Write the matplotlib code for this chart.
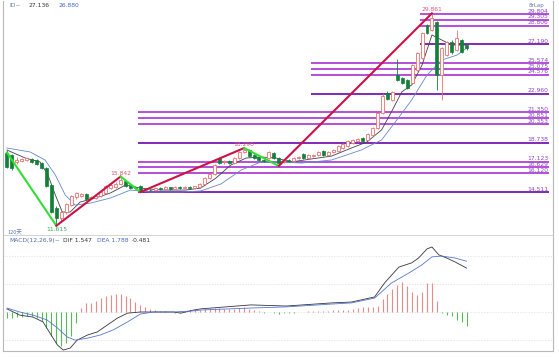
import matplotlib
matplotlib.use("Agg")
import matplotlib.pyplot as plt
import numpy as np

# daily candles (open, high, low, close)
opens = [17.86, 17.69, 17.09, 17.17, 17.26, 17.35, 17.26, 17.00, 16.57, 15.11,
         13.14, 12.27, 12.79, 13.39, 14.08, 14.16, 14.34, 13.99, 13.99, 14.16,
         14.42, 14.85, 14.94, 15.20, 15.46, 15.11, 14.94, 15.03, 14.68, 14.70,
         14.68, 14.85, 14.77, 14.90, 14.80, 14.95, 14.82, 14.98, 14.85, 14.95,
         15.20, 15.70, 16.05, 17.43, 17.05, 17.20, 17.00, 17.43, 17.95, 18.12,
         17.69, 17.52, 17.26, 17.43, 17.86, 17.43, 17.09, 17.26, 17.17, 17.43,
         17.78, 17.43, 17.62, 17.69, 18.03, 17.69, 17.95, 18.03, 18.29, 18.46,
         18.72, 18.89, 19.15, 18.98, 19.41, 20.01, 21.30, 23.00, 22.42, 24.56,
         24.30, 24.13, 23.88, 24.99, 26.02, 28.86, 28.43, 29.12, 24.56, 26.28,
         27.40, 26.71, 27.57, 27.14]
highs = [18.12, 17.80, 17.50, 17.45, 17.55, 17.45, 17.35, 17.10, 16.65, 15.20,
         13.30, 12.95, 13.60, 14.25, 14.55, 14.45, 14.45, 14.20, 14.25, 14.60,
         15.10, 15.25, 15.35, 15.842, 15.55, 15.20, 15.00, 15.10, 14.85, 14.78,
         14.92, 14.90, 15.00, 14.95, 15.02, 15.00, 15.05, 15.03, 15.06, 15.25,
         15.78, 16.15, 16.95, 17.55, 17.25, 17.28, 17.50, 18.05, 18.29, 18.18,
         17.75, 17.60, 17.35, 18.02, 17.92, 17.48, 17.32, 17.32, 17.50, 17.58,
         17.85, 17.75, 17.78, 18.02, 18.08, 18.02, 18.20, 18.52, 18.70, 18.95,
         19.05, 19.15, 19.22, 19.58, 20.10, 21.40, 22.90, 23.15, 23.20, 25.98,
         24.40, 24.20, 25.50, 26.55, 28.30, 28.95, 29.861, 29.20, 27.00, 27.50,
         27.55, 28.43, 27.65, 27.25]
lows = [16.57, 16.40, 16.95, 17.05, 17.15, 17.00, 16.85, 16.45, 14.95, 12.70,
        11.615, 12.00, 12.65, 13.30, 13.95, 14.05, 13.85, 13.90, 13.90, 14.10,
        14.35, 14.75, 14.85, 15.10, 14.95, 14.80, 14.75, 14.511, 14.60, 14.58,
        14.62, 14.70, 14.72, 14.72, 14.75, 14.76, 14.78, 14.80, 14.80, 14.90,
        15.15, 15.62, 16.00, 16.90, 16.95, 16.92, 16.95, 17.38, 17.90, 17.55,
        17.35, 17.20, 17.10, 17.38, 17.38, 16.75, 17.02, 17.10, 17.12, 17.38,
        17.38, 17.38, 17.55, 17.62, 17.62, 17.62, 17.88, 17.98, 18.22, 18.40,
        18.65, 18.82, 18.82, 18.92, 19.35, 19.95, 21.25, 22.40, 22.35, 24.05,
        23.80, 23.40, 23.80, 24.90, 25.95, 28.05, 28.35, 23.28, 22.42, 26.20,
        26.40, 26.60, 26.45, 26.71]
closes = [16.66, 16.57, 17.26, 17.35, 17.43, 17.09, 16.92, 16.57, 15.03, 12.79,
          12.27, 12.79, 13.48, 14.16, 14.42, 14.34, 13.91, 14.08, 14.16, 14.51,
          15.03, 15.11, 15.20, 15.54, 15.03, 14.85, 14.85, 14.60, 14.77, 14.65,
          14.85, 14.77, 14.92, 14.80, 14.95, 14.82, 14.98, 14.88, 15.00, 15.20,
          15.70, 16.05, 16.85, 17.00, 17.15, 17.00, 17.43, 17.95, 18.12, 17.60,
          17.43, 17.26, 17.18, 17.95, 17.43, 17.00, 17.26, 17.18, 17.43, 17.52,
          17.43, 17.69, 17.69, 17.95, 17.69, 17.95, 18.12, 18.46, 18.63, 18.89,
          18.98, 19.07, 18.89, 19.50, 20.01, 21.30, 22.76, 22.50, 23.11, 24.13,
          23.88, 23.45, 25.42, 26.45, 28.17, 28.17, 29.46, 24.56, 26.88, 27.40,
          26.54, 27.74, 26.54, 26.88]

# moving averages (bar index, price)
ma_fast_x = [0, 3.7, 6.7, 8.3, 9.8, 11.2, 12.8, 14.8, 17.9, 20.9, 24, 27, 31.1, 36.2, 39.2,
             42.3, 45.3, 48.4, 51.4, 54.5, 57.5, 61.6, 65.7, 69.7, 72.8, 75.8, 77.8,
             79.9, 81.9, 84, 86, 88, 90, 93]
ma_fast = [18.12, 17.43, 17.09, 15.97, 14.25, 12.79, 12.79, 13.65, 13.99, 14.42, 15.11,
           14.85, 14.68, 14.68, 14.85, 15.71, 16.83, 17.43, 17.52, 17.43, 17.09, 17.35,
           17.60, 18.29, 18.80, 19.84, 21.39, 23.11, 23.71, 25.42, 28.0, 27.57, 27.14, 27.136]
ma_slow_x = [0, 4.7, 7.7, 9.8, 11.8, 13.8, 16.9, 20.9, 25, 29.1, 35.2, 39.2, 43.3, 47.4,
             51.4, 55.5, 59.6, 65.7, 71.7, 75.8, 78.9, 81.9, 85, 88, 91.1, 93]
ma_slow = [18.29, 17.95, 17.26, 15.97, 14.25, 13.39, 13.56, 13.99, 14.68, 14.51, 14.51,
           14.60, 15.20, 16.40, 17.09, 17.09, 17.00, 17.26, 18.12, 18.98, 20.70, 22.42,
           24.56, 25.85, 26.28, 26.88]

# swing points
swing_x = [0, 10, 23, 27, 48, 55, 86]
swing_y = [17.90, 11.615, 15.842, 14.511, 18.290, 16.75, 29.861]
swing_labels = {10: "11.615", 23: "15.842", 48: "18.290", 86: "29.861"}

# projection levels, grouped by the bar they start from
levels_a = [21.350, 20.851, 20.353, 18.738, 17.123, 16.629, 16.120, 14.511]
levels_b = [25.574, 25.075, 24.576, 22.960]
levels_c = [29.804, 29.305, 28.806, 27.190]
level_start = [26.6, 61.6, 83.5]

# MACD(12,26,9)
dif_x = [0, 2.6, 5.3, 7.3, 8.7, 10.2, 11.4, 12.8, 14.2, 16.3, 18.3, 20.3, 22.4, 24.4, 27,
         31.1, 33.7, 35.2, 37.8, 39.2, 49.4, 56.5, 65.7, 69.7, 74.4, 76.4, 79.3, 81.9,
         83.3, 85, 86, 87.4, 89, 90.7, 93]
dif = [0.11, -0.11, -0.18, -0.35, -0.74, -1.16, -1.34, -1.27, -0.99, -0.81, -0.70, -0.46,
       -0.21, -0.04, 0.0, 0.0, 0.0, -0.04, 0.07, 0.11, 0.25, 0.21, 0.32, 0.35, 0.53, 1.02,
       1.58, 1.73, 1.90, 2.22, 2.29, 2.01, 1.90, 1.76, 1.547]
dea_x = [0, 2.6, 5.3, 8.1, 10.2, 12.2, 13.8, 16.3, 18.9, 21.5, 24.4, 27, 29.7, 33.7, 37.8,
         39.2, 49.4, 56.5, 65.7, 69.7, 74.4, 77.8, 81.3, 83.9, 86, 88, 90.7, 93]
dea = [0.14, 0.0, -0.11, -0.28, -0.56, -0.88, -0.99, -0.92, -0.81, -0.63, -0.35, -0.07,
       0.0, 0.0, 0.04, 0.07, 0.14, 0.18, 0.28, 0.32, 0.49, 1.02, 1.37, 1.65, 1.94, 1.97,
       1.90, 1.788]
hist = [-0.2, -0.2, -0.18, -0.18, -0.15, -0.15, -0.2, -0.3, -0.55, -0.85,
        -1.1, -1.2, -1.1, -0.85, -0.4, 0.15, 0.3, 0.32, 0.4, 0.48,
        0.55, 0.6, 0.64, 0.63, 0.58, 0.48, 0.35, 0.25, 0.18, 0.12,
        0.08, 0.05, 0.02, -0.01, -0.04, -0.05, 0.03, 0.06, 0.08, 0.08,
        0.1, 0.12, 0.15, 0.14, 0.12, 0.1, 0.12, 0.15, 0.16, 0.12,
        0.06, 0.02, -0.02, 0.0, -0.04, -0.06, -0.05, -0.03, -0.02, 0.0,
        0.01, 0.02, 0.03, 0.04, 0.05, 0.05, 0.06, 0.07, 0.07, 0.08,
        0.1, 0.14, 0.17, 0.16, 0.19, 0.2, 0.45, 0.62, 0.8, 0.95,
        1.05, 0.9, 0.72, 0.6, 0.7, 1.02, 1.02, 0.38, -0.03, -0.1,
        -0.15, -0.27, -0.35, -0.481]

plt.rcParams['font.family'] = ['DejaVu Sans', 'Noto Sans CJK SC']

W, H = 559, 357
fig = plt.figure(figsize=(W / 100, H / 100), dpi=100)
fig.patch.set_facecolor('white')
ax = fig.add_axes([3 / W, 1 - 235 / H, 550 / W, 234 / H])
ax2 = fig.add_axes([3 / W, 1 - 351 / H, 550 / W, 116 / H])

UP = '#ee6f6f'
DOWN = '#13803a'
PURPLE = '#b040d8'
DARK_PURPLE = '#7818b0'

n = len(closes)
xlim = (-0.8, 110.5)

# candles: hollow red up, filled green down
for i in range(n):
    o, h, l, c = opens[i], highs[i], lows[i], closes[i]
    if c >= o:
        ax.vlines(i, c, h, color=UP, lw=0.6, zorder=3)
        ax.vlines(i, l, o, color=UP, lw=0.6, zorder=3)
        ax.add_patch(plt.Rectangle((i - 0.3, o), 0.6, max(c - o, 0.03),
                                   facecolor='white', edgecolor=UP, lw=0.6, zorder=3))
    else:
        ax.vlines(i, l, h, color=DOWN, lw=0.6, zorder=3)
        ax.add_patch(plt.Rectangle((i - 0.3, c), 0.6, max(o - c, 0.03),
                                   facecolor=DOWN, edgecolor=DOWN, lw=0.5, zorder=3))

ax.plot(ma_fast_x, ma_fast, color='#404050', lw=0.6, zorder=2)
ax.plot(ma_slow_x, ma_slow, color='#6688cc', lw=0.6, zorder=2)

# zigzag
for k in range(len(swing_x) - 1):
    col = '#33dd33' if swing_y[k + 1] < swing_y[k] else '#cc1144'
    ax.plot(swing_x[k:k + 2], swing_y[k:k + 2], color=col, lw=1.5, zorder=4)
for k, lab in swing_labels.items():
    idx = swing_x.index(k)
    if idx == 1:
        ax.text(k, swing_y[idx] - 0.12, lab, fontsize=4.3, color='#33aa55',
                ha='center', va='top', zorder=5)
    else:
        ax.text(k, swing_y[idx] + 0.08, lab, fontsize=4.3, color='#dd5577',
                ha='center', va='bottom', zorder=5)

# projection lines
base_levels = {14.511, 18.738, 22.960, 27.190}
for start, levels in zip(level_start, [levels_a, levels_b, levels_c]):
    for lv in levels:
        col = DARK_PURPLE if lv in base_levels else PURPLE
        ax.hlines(lv, start, 109.6, color=col, lw=1.3, zorder=1)
        ax.text(109.6, lv + 0.04, f"{lv:.3f}", fontsize=4.3, color='#8844cc',
                ha='right', va='bottom', zorder=5)

ax.set_xlim(*xlim)
ax.set_ylim(10.818, 30.921)
ax.set_xticks([])
ax.set_yticks([])
for s in ['top', 'bottom']:
    ax.spines[s].set_visible(False)
for s in ['left', 'right']:
    ax.spines[s].set_color('#b8b8b8')
    ax.spines[s].set_linewidth(0.8)

ax.text(0.4, 30.55, "ID~", fontsize=4.3, color='#6677aa', va='center')
ax.text(4.4, 30.55, "27.136", fontsize=4.3, color='#333333', va='center')
ax.text(10.4, 30.55, "26.880", fontsize=4.3, color='#4466cc', va='center')
ax.text(108.8, 30.55, "8rLap", fontsize=4.0, color='#6677aa', va='center', ha='right')
ax.text(0.2, 11.0, "120天", fontsize=4.0, color='#6677aa', va='center',
        family=['Noto Sans CJK SC', 'DejaVu Sans'])

# MACD panel
for i in range(n):
    col = '#e88a8a' if hist[i] >= 0 else '#55bb55'
    ax2.vlines(i, 0, hist[i], color=col, lw=0.8)
ax2.plot(dif_x, dif, color='#333344', lw=0.6)
ax2.plot(dea_x, dea, color='#5577cc', lw=0.6)
for gy in [-0.99, 0.0, 0.99, 1.97]:
    ax2.axhline(gy, color='#dddddd', lw=0.5, ls=(0, (2, 2)), zorder=0)
ax2.set_xlim(*xlim)
ax2.set_ylim(-1.373, 2.711)
ax2.set_xticks([])
ax2.set_yticks([])
ax2.spines['top'].set_color('#cccccc')
ax2.spines['top'].set_linewidth(0.6)
for s in ['left', 'right', 'bottom']:
    ax2.spines[s].set_color('#b8b8b8')
    ax2.spines[s].set_linewidth(0.8)

ax2.text(0.4, 2.5, "MACD(12,26,9)~", fontsize=4.3, color='#5566aa', va='center')
ax2.text(11.3, 2.5, "DIF 1.547", fontsize=4.3, color='#333333', va='center')
ax2.text(18.3, 2.5, "DEA 1.788", fontsize=4.3, color='#4466cc', va='center')
ax2.text(25.2, 2.5, "-0.481", fontsize=4.3, color='#333333', va='center')

fig.savefig('out.png', dpi=100, facecolor='white')
